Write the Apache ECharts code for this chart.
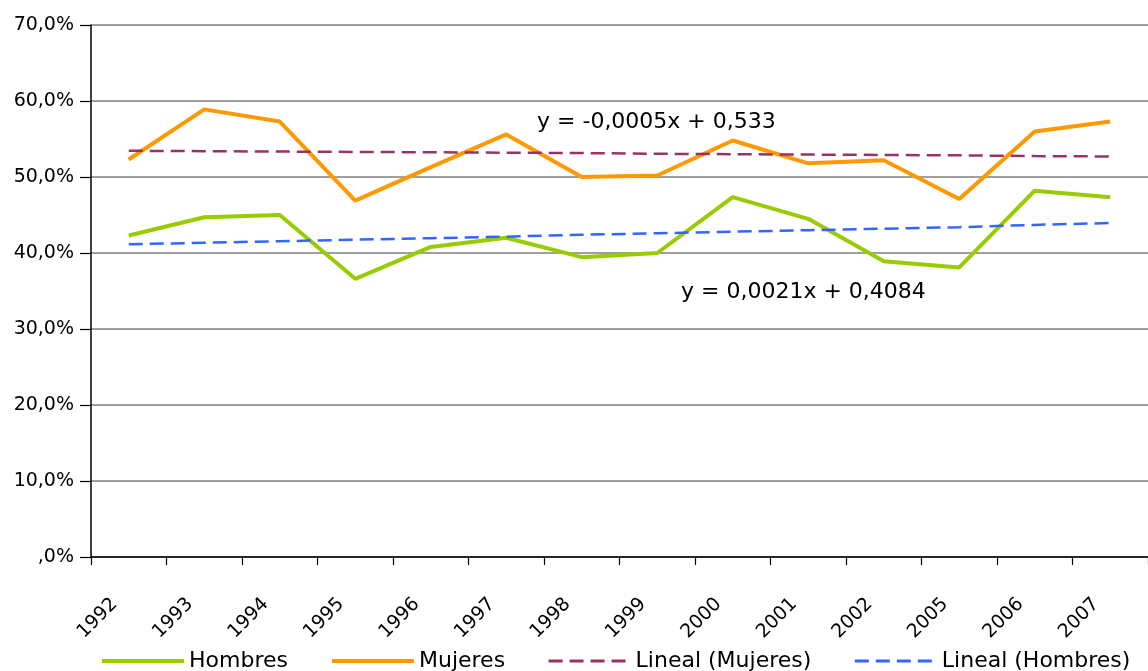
<!DOCTYPE html>
<html>
<head>
<meta charset="utf-8">
<script src="https://cdn.jsdelivr.net/npm/echarts@6/dist/echarts.min.js"></script>
<style>
html,body{margin:0;padding:0;background:#fff;}
#chart{width:1148px;height:671px;}
</style>
</head>
<body>
<div id="chart"></div>
<script>
const categories = ['1992','1993','1994','1995','1996','1997','1998','1999','2000','2001','2002','2005','2006','2007'];
const hombres = [42.3,44.7,45.0,36.6,40.8,42.0,39.45,40.0,47.35,44.5,38.9,38.1,48.2,47.35];
const mujeres = [52.3,58.9,57.3,46.9,51.3,55.6,50.0,50.2,54.8,51.8,52.2,47.1,56.0,57.3];
const linealMujeres = [53.45,53.4,53.35,53.3,53.25,53.2,53.15,53.05,53.0,52.95,52.9,52.85,52.75,52.7];
const linealHombres = [41.15,41.35,41.55,41.75,41.95,42.15,42.4,42.6,42.8,43.0,43.2,43.4,43.7,43.95];
const yTickLabels = [',0%','10,0%','20,0%','30,0%','40,0%','50,0%','60,0%','70,0%'];
const seriesNames = ['Hombres','Mujeres','Lineal (Mujeres)','Lineal (Hombres)'];
const equations = ['y = -0,0005x + 0,533','y = 0,0021x + 0,4084'];

const FONT = 'DejaVu Sans';
const GREEN = '#99CC00', ORANGE = '#FF9900', MAROON = '#993366', BLUE = '#3366FF';
const DASH = [14,7];
const chart = echarts.init(document.getElementById('chart'), null, {renderer:'canvas'});
chart.setOption({
  animation:false,
  backgroundColor:'#ffffff',
  grid:{left:91, top:25, width:1066, bottom:114, containLabel:false},
  xAxis:{
    type:'category',
    data:categories,
    boundaryGap:true,
    axisLine:{show:true, lineStyle:{color:'#000', width:1.5}},
    axisTick:{show:true, length:8, lineStyle:{color:'#000', width:1.2}},
    axisLabel:{rotate:45, margin:30, padding:[0,20,0,0], color:'#000', fontFamily:FONT, fontSize:19, interval:0},
    splitLine:{show:false}
  },
  yAxis:{
    type:'value',
    min:0, max:70, interval:10,
    axisLine:{show:true, lineStyle:{color:'#000', width:1.5}},
    axisTick:{show:true, length:11, lineStyle:{color:'#000', width:1.2}},
    axisLabel:{margin:17, color:'#000', fontFamily:FONT, fontSize:19,
      formatter:function(v){return yTickLabels[Math.round(v/10)];}},
    splitLine:{show:true, lineStyle:{color:'#7f7f7f', width:1.5}}
  },
  legend:{
    data:[
      {name:seriesNames[0], lineStyle:{width:4, color:GREEN}},
      {name:seriesNames[1], lineStyle:{width:4, color:ORANGE}},
      {name:seriesNames[2], lineStyle:{width:3, color:MAROON, type:DASH}},
      {name:seriesNames[3], lineStyle:{width:3, color:BLUE, type:DASH}}
    ],
    left:100, top:650, width:1048, padding:0,
    itemWidth:82, itemHeight:14, itemGap:42,
    itemStyle:{opacity:0},
    textStyle:{fontFamily:FONT, fontSize:22, color:'#000'}
  },
  series:[
    {name:seriesNames[0], type:'line', data:hombres, symbol:'none', lineStyle:{color:GREEN, width:4}, itemStyle:{color:GREEN}, z:2},
    {name:seriesNames[1], type:'line', data:mujeres, symbol:'none', lineStyle:{color:ORANGE, width:4}, itemStyle:{color:ORANGE}, z:2},
    {name:seriesNames[2], type:'line', data:linealMujeres, symbol:'none', lineStyle:{color:MAROON, width:2.5, type:DASH}, itemStyle:{color:MAROON}, z:3},
    {name:seriesNames[3], type:'line', data:linealHombres, symbol:'none', lineStyle:{color:BLUE, width:2.5, type:DASH}, itemStyle:{color:BLUE}, z:3}
  ],
  graphic:[
    {type:'text', left:537, top:111, style:{text:equations[0], fontFamily:FONT, fontSize:22, fill:'#000'}},
    {type:'text', left:681, top:281, style:{text:equations[1], fontFamily:FONT, fontSize:22, fill:'#000'}}
  ]
});
</script>
</body>
</html>
